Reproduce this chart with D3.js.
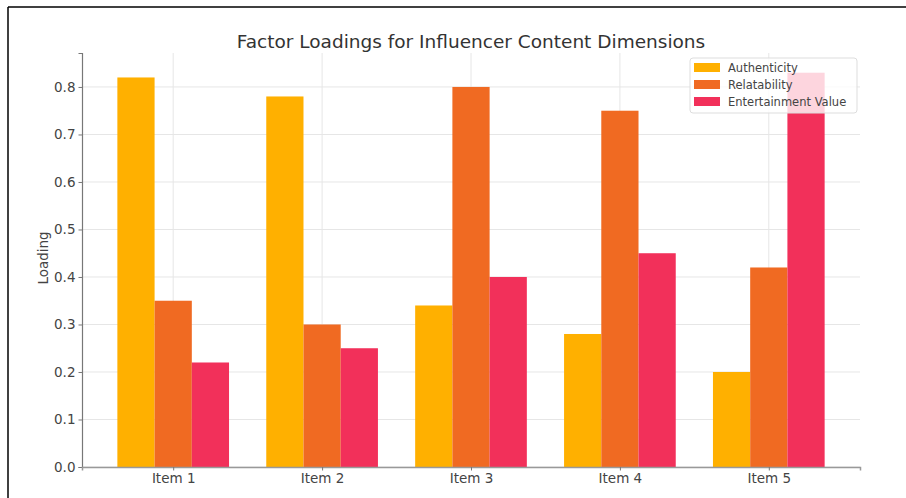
<!DOCTYPE html>
<html>
<head>
<meta charset="utf-8">
<script src="https://cdn.jsdelivr.net/npm/d3@7"></script>
<style>
  html, body { margin: 0; padding: 0; background: #fff; }
  svg { display: block; }
</style>
</head>
<body>
<script>
// Factor loading values per item, one array per dimension
const items = ["Item 1", "Item 2", "Item 3", "Item 4", "Item 5"];
const seriesNames = ["Authenticity", "Relatability", "Entertainment Value"];
const authenticity = [0.82, 0.78, 0.34, 0.28, 0.20];
const relatability = [0.35, 0.30, 0.80, 0.75, 0.42];
const entertainment = [0.22, 0.25, 0.40, 0.45, 0.83];
const yTicks = [0, 0.1, 0.2, 0.3, 0.4, 0.5, 0.6, 0.7, 0.8];
const colors = ["#FFB000", "#F06A22", "#F2305A"];

const series = [authenticity, relatability, entertainment];

const W = 906, H = 498;
const margin = { left: 82, right: 46, top: 53, bottom: 31 };
const plotW = W - margin.left - margin.right;
const plotH = H - margin.top - margin.bottom;
const FONT = "DejaVu Sans";

const svg = d3.select("body").append("svg")
  .attr("width", W).attr("height", H);

// frame lines on the left and top edges
svg.append("line").attr("x1", 8).attr("x2", 8).attr("y1", 7).attr("y2", H)
  .attr("stroke", "#000").attr("stroke-width", 1.5);
svg.append("line").attr("x1", 8).attr("x2", W).attr("y1", 7).attr("y2", 7)
  .attr("stroke", "#000").attr("stroke-width", 1.5);

const barW = 0.25;
const x = d3.scaleLinear()
  .domain([-0.6125, items.length - 1 + 0.6125])
  .range([margin.left, margin.left + plotW]);
const y = d3.scaleLinear()
  .domain([0, 0.8715])
  .range([margin.top + plotH, margin.top]);

const g = svg.append("g");

// grid
g.selectAll("line.hgrid").data(yTicks).join("line")
  .attr("x1", x.range()[0]).attr("x2", x.range()[1])
  .attr("y1", d => y(d)).attr("y2", d => y(d))
  .attr("stroke", "#e6e6e6").attr("stroke-width", 1);
g.selectAll("line.vgrid").data(items).join("line")
  .attr("x1", (d, i) => x(i)).attr("x2", (d, i) => x(i))
  .attr("y1", y.range()[0]).attr("y2", y.range()[1])
  .attr("stroke", "#e6e6e6").attr("stroke-width", 1);

// bars
series.forEach((vals, s) => {
  g.append("g").selectAll("rect").data(vals).join("rect")
    .attr("x", (d, i) => x(i + (s - 1) * barW - barW / 2))
    .attr("width", x(barW) - x(0))
    .attr("y", d => y(d))
    .attr("height", d => y(0) - y(d))
    .attr("fill", colors[s]);
});

// axes
const yAxis = d3.axisLeft(y).tickValues(yTicks).tickFormat(d3.format(".1f"))
  .tickSize(3.5).tickPadding(3);
const yG = svg.append("g").attr("transform", `translate(${margin.left},0)`).call(yAxis);
yG.select(".domain").attr("stroke", "#777").attr("stroke-width", 1.2);
yG.selectAll(".tick line").attr("stroke", "#777");
yG.selectAll("text").attr("fill", "#444").style("font-family", FONT).style("font-size", "13.5px");

const xAxis = d3.axisBottom(d3.scaleLinear().domain(x.domain()).range(x.range()))
  .tickValues(d3.range(items.length)).tickFormat(i => items[i]).tickSize(3.5).tickPadding(3);
const xG = svg.append("g").attr("transform", `translate(0,${margin.top + plotH})`).call(xAxis);
xG.select(".domain").attr("stroke", "#999").attr("stroke-width", 1.5);
xG.selectAll(".tick line").attr("stroke", "#777");
xG.selectAll("text").attr("fill", "#444").style("font-family", FONT).style("font-size", "13.5px");

// y label
svg.append("text")
  .attr("transform", `translate(48,${y(0.44)}) rotate(-90)`)
  .attr("text-anchor", "middle")
  .style("font-family", FONT).style("font-size", "13.5px").attr("fill", "#444")
  .text("Loading");

// title
svg.append("text")
  .attr("x", (x.range()[0] + x.range()[1]) / 2).attr("y", 48)
  .attr("text-anchor", "middle")
  .style("font-family", FONT).style("font-size", "18.5px").attr("fill", "#333")
  .text("Factor Loadings for Influencer Content Dimensions");

// legend
const lg = svg.append("g").attr("transform", "translate(690,58)");
lg.append("rect").attr("width", 167).attr("height", 55).attr("rx", 3)
  .attr("fill", "#fff").attr("fill-opacity", 0.8)
  .attr("stroke", "#ddd");
seriesNames.forEach((name, i) => {
  lg.append("rect").attr("x", 4).attr("y", 5 + i * 17).attr("width", 26).attr("height", 9)
    .attr("fill", colors[i]);
  lg.append("text").attr("x", 38).attr("y", 14 + i * 17)
    .style("font-family", FONT).style("font-size", "11.5px").attr("fill", "#444")
    .text(name);
});
</script>
</body>
</html>
